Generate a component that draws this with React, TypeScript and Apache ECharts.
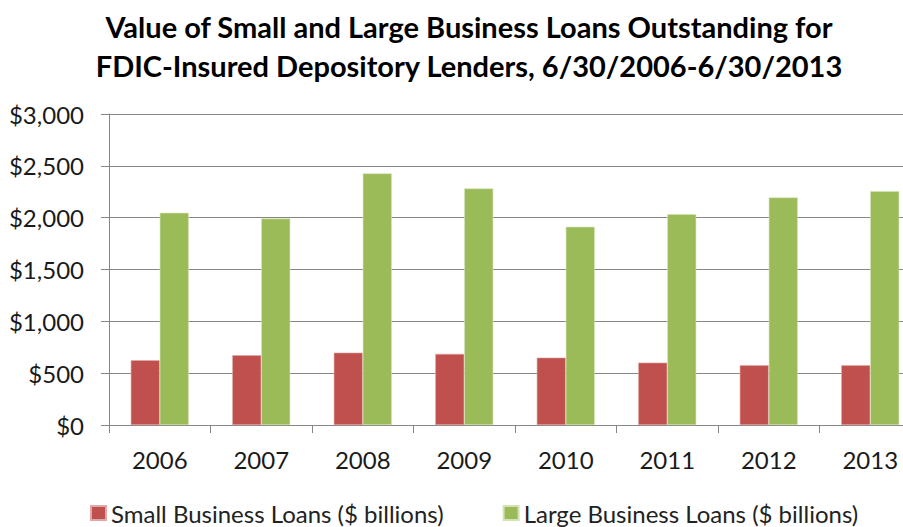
import React, { useEffect, useRef } from "react";
import * as echarts from "echarts";

const years = ["2006", "2007", "2008", "2009", "2010", "2011", "2012", "2013"];
const smallLoans = [625, 673, 698, 686, 650, 602, 576, 576];
const largeLoans = [2047, 1992, 2427, 2282, 1912, 2034, 2195, 2256];
const yTicks = { min: 0, max: 3000, interval: 500 };
const titleText =
  "Value of Small and Large Business Loans Outstanding for\nFDIC-Insured Depository Lenders, 6/30/2006-6/30/2013";
const seriesNames = ["Small Business Loans ($ billions)", "Large Business Loans ($ billions)"];

const FONT = "Lato, 'Open Sans', sans-serif";

export default function App() {
  const ref = useRef<HTMLDivElement>(null);
  useEffect(() => {
    document.body.style.margin = "0";
    const chart = echarts.init(ref.current!, null, { renderer: "svg" });
    chart.setOption({
      animation: false,
      backgroundColor: "#ffffff",
      title: {
        text: titleText,
        left: 469,
        textAlign: "center",
        top: 7,
        padding: 0,
        textStyle: {
          fontFamily: FONT,
          fontWeight: "bold",
          fontSize: 29,
          lineHeight: 39,
          color: "#000000",
        },
      },
      legend: {
        left: 90,
        top: 500,
        padding: 0,
        itemWidth: 15,
        itemHeight: 14,
        itemGap: 59,
        icon: "rect",
        textStyle: { fontFamily: FONT, fontSize: 24, lineHeight: 26, color: "#222222", padding: [0, 0, 0, 0] },
        data: seriesNames,
      },
      grid: { left: 109, top: 114, width: 812, height: 311 },
      xAxis: {
        type: "category",
        data: years,
        boundaryGap: true,
        axisLine: { lineStyle: { color: "#878787", width: 1 } },
        axisTick: { show: true, length: 8, alignWithLabel: false, lineStyle: { color: "#878787" } },
        axisLabel: { margin: 22, fontFamily: FONT, fontSize: 24, color: "#1a1a1a" },
      },
      yAxis: {
        type: "value",
        min: yTicks.min,
        max: yTicks.max,
        interval: yTicks.interval,
        axisLine: { show: true, lineStyle: { color: "#878787", width: 1 } },
        axisTick: { show: true, length: 8, lineStyle: { color: "#878787" } },
        splitLine: { show: true, lineStyle: { color: "#878787", width: 1 } },
        axisLabel: {
          margin: 25,
          fontFamily: FONT,
          fontSize: 24,
          color: "#1a1a1a",
          formatter: (v: number) => "$" + v.toLocaleString("en-US"),
        },
      },
      series: [
        {
          name: seriesNames[0],
          type: "bar",
          data: smallLoans,
          barWidth: 29,
          barGap: "0%",
          itemStyle: { color: "#C0504D", borderColor: "#e0a8a6", borderWidth: 0.6 },
        },
        {
          name: seriesNames[1],
          type: "bar",
          data: largeLoans,
          barWidth: 29,
          barGap: "0%",
          itemStyle: { color: "#9BBB59", borderColor: "#d4e3b6", borderWidth: 0.6 },
        },
      ],
    });
    return () => chart.dispose();
  }, []);
  return (
    <div style={{ width: 903, height: 527, overflow: "hidden", position: "relative" }}>
      <div ref={ref} style={{ width: 925, height: 527 }} />
    </div>
  );
}
